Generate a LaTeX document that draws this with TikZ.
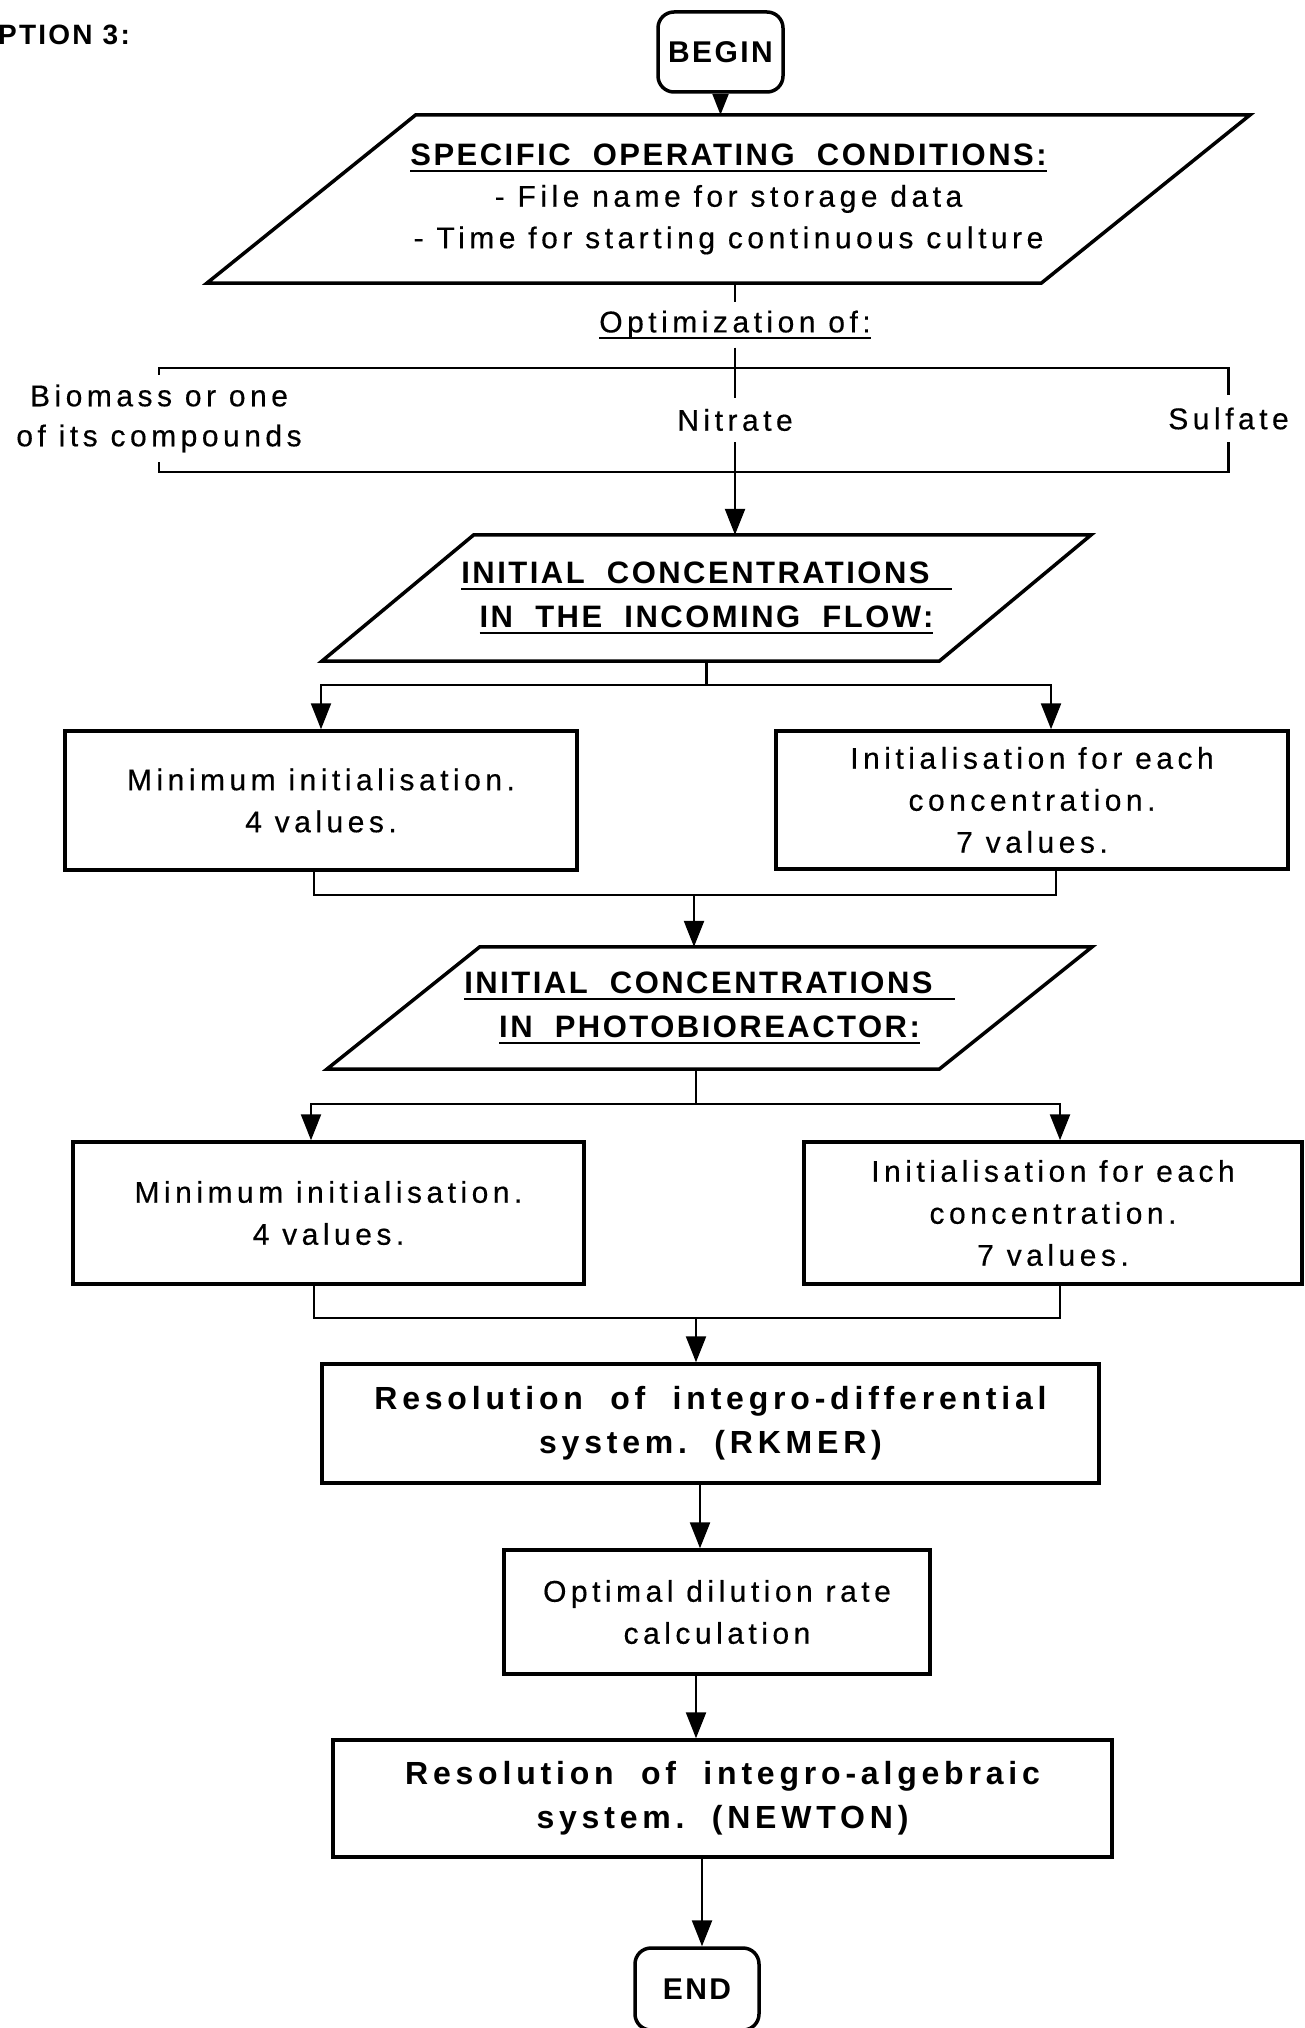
\documentclass[tikz,border=0pt]{standalone}
\usepackage{fontspec}
\setmainfont{Liberation Sans}
\newfontfamily\plainfont{Liberation Sans}[LetterSpace=15,FakeBold=0.4]
\newfontfamily\heavyfont{Liberation Sans}[LetterSpace=15]
\newfontfamily\capsfont{Liberation Sans}[LetterSpace=8]
\usetikzlibrary{arrows.meta,calc}

% underline drawn as a rule a little below the baseline
\newcommand\ultext[1]{\setbox0=\hbox{#1}\leavevmode\rlap{\rule[-7pt]{\wd0}{2.6pt}}\box0}

\begin{document}
\begin{tikzpicture}[x=1pt,y=-1pt,
  regtext/.style={font=\plainfont\fontsize{30}{42}\selectfont, align=center},
  boldtext/.style={font=\heavyfont\bfseries\fontsize{32}{44}\selectfont, align=center},
  capstext/.style={font=\capsfont\bfseries\fontsize{31}{44}\selectfont, align=center},
  outline/.style={line width=3.5pt},
  procbox/.style={draw, outline, inner sep=0pt},
  termbox/.style={draw, outline, rounded corners=16pt, inner sep=0pt},
  paraframe/.style={inner sep=0pt},
  wire/.style={line width=2.4pt},
  arr/.style={wire, -{Triangle[width=20pt,length=26pt]}},
  smallarr/.style={wire, -{Triangle[width=16pt,length=21pt]}},
]
\useasboundingbox (0,0) rectangle (1304,2028);
\fill[white] (0,0) rectangle (1304,2028);

% ---- heading and start ----
\node[capstext, anchor=west, inner sep=0pt, font=\capsfont\bfseries\fontsize{28}{30}\selectfont] (optlabel) at (-2,35) {PTION 3:};
\node[termbox, capstext, font=\capsfont\bfseries\fontsize{30}{30}\selectfont, minimum width=125pt, minimum height=80pt] (start) at (720.5,52) {BEGIN};

% ---- operating conditions (input parallelogram) ----
\node[paraframe, minimum width=1043pt, minimum height=168pt, align=center, font=\plainfont\fontsize{30}{41.5}\selectfont] (p1) at (728.5,199)
  {{\capsfont\bfseries\fontsize{31}{41.5}\selectfont\ultext{SPECIFIC\ \ OPERATING\ \ CONDITIONS:}}\\- File name for storage data\\- Time for starting continuous culture};
\draw[outline] ($(p1.north west)+(209,0)$) -- (p1.north east) -- ($(p1.south east)+(-209,0)$) -- (p1.south west) -- cycle;

% ---- optimisation choice ----
\node[regtext, inner sep=0pt, minimum height=45pt] (opt) at (735,325) {\ultext{Optimization of:}};
\node[regtext, inner sep=0pt, minimum height=87pt, font=\plainfont\fontsize{30}{40}\selectfont] (bio) at (159,418.5) {Biomass or one\\of its compounds};
\node[regtext, inner sep=0pt, minimum height=44pt] (nit) at (735,420) {Nitrate};
\node[regtext, inner sep=0pt, minimum height=47pt] (sul) at (1228.5,418.5) {Sulfate};

% ---- incoming flow ----
\node[paraframe, capstext, minimum width=769pt, minimum height=126pt] (p2) at (706.5,598)
  {\ultext{INITIAL\ \ CONCENTRATIONS\hspace{22pt}}\\\ultext{IN\ \ THE\ \ INCOMING\ \ FLOW:}};
\draw[outline] ($(p2.north west)+(152,0)$) -- (p2.north east) -- ($(p2.south east)+(-152,0)$) -- (p2.south west) -- cycle;

\node[procbox, regtext, minimum width=512pt, minimum height=139pt] (L1) at (321,800.5) {Minimum initialisation.\\4 values.};
\node[procbox, regtext, minimum width=512pt, minimum height=138pt] (R1) at (1032,800) {Initialisation for each\\concentration.\\7 values.};

% ---- photobioreactor ----
\node[paraframe, capstext, minimum width=765pt, minimum height=122pt] (p3) at (709.5,1008)
  {\ultext{INITIAL\ \ CONCENTRATIONS\hspace{22pt}}\\\ultext{IN\ \ PHOTOBIOREACTOR:}};
\draw[outline] ($(p3.north west)+(153,0)$) -- (p3.north east) -- ($(p3.south east)+(-153,0)$) -- (p3.south west) -- cycle;

\node[procbox, regtext, minimum width=511pt, minimum height=142pt] (L2) at (328.5,1213) {Minimum initialisation.\\4 values.};
\node[procbox, regtext, minimum width=498pt, minimum height=142pt] (R2) at (1053,1213) {Initialisation for each\\concentration.\\7 values.};

% ---- solvers ----
\node[procbox, boldtext, minimum width=777pt, minimum height=119pt] (rk) at (710.5,1423.5) {Resolution\ \ of\ \ integro-differential\\system.\ \ (RKMER)};
\node[procbox, regtext, minimum width=426pt, minimum height=124pt] (od) at (717,1612) {Optimal dilution rate\\calculation};
\node[procbox, boldtext, minimum width=779pt, minimum height=117pt] (nw) at (722.5,1798.5) {Resolution\ \ of\ \ integro-algebraic\\system.\ \ (NEWTON)};
\node[termbox, capstext, font=\capsfont\bfseries\fontsize{30}{30}\selectfont, minimum width=124pt, minimum height=82pt] (finish) at (697,1989) {END};

% ---- routing points ----
\coordinate (brtop) at (0,368);
\coordinate (brbot) at (0,472);
\coordinate (fork1) at (706.5,685);
\coordinate (merge1) at (694,895);
\coordinate (fork2) at (696,1104);
\coordinate (merge2) at (696,1318);
\coordinate (colA) at (700,0);
\coordinate (colB) at (696,0);
\coordinate (colC) at (702,0);

% ---- connectors ----
\draw[smallarr] (start.south) -- (start.south |- p1.north);
\draw[wire] (opt.north |- p1.south) -- (opt.north);
\draw[wire] (opt.south) -- (nit.north);
\draw[wire] (bio.north) -- (bio.north |- brtop) -- (sul.north |- brtop) -- (sul.north);
\draw[wire] (bio.south) -- (bio.south |- brbot) -- (sul.south |- brbot) -- (sul.south);
\draw[arr] (nit.south) -- (nit.south |- p2.north);
\draw[wire] (p2.south) -- (fork1);
\draw[arr] (fork1) -| (L1.north);
\draw[arr] (fork1) -| ([xshift=19pt]R1.north);
\draw[wire] ([xshift=-7pt]L1.south) |- (merge1) -| ([xshift=24pt]R1.south);
\draw[arr] (merge1) -- (merge1 |- p3.north);
\draw[wire] (fork2 |- p3.south) -- (fork2);
\draw[arr] (fork2) -| ([xshift=-17.5pt]L2.north);
\draw[arr] (fork2) -| ([xshift=7pt]R2.north);
\draw[wire] ([xshift=-14.5pt]L2.south) |- (merge2) -| ([xshift=7pt]R2.south);
\draw[arr] (merge2) -- (merge2 |- rk.north);
\draw[arr] (rk.south -| colA) -- (od.north -| colA);
\draw[arr] (od.south -| colB) -- (nw.north -| colB);
\draw[arr] (nw.south -| colC) -- (finish.north -| colC);
\end{tikzpicture}
\end{document}
